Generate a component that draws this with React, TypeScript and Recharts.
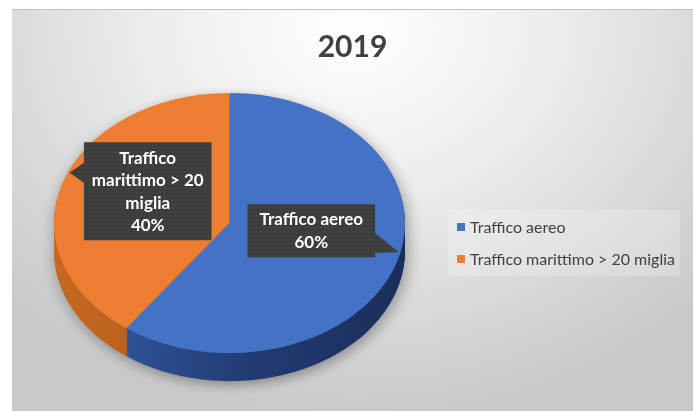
import React from "react";
import { Cell, Legend, Pie, PieChart } from "recharts";

const title = "2019";
const categories = ["Traffico aereo", "Traffico marittimo > 20 miglia"];
const shares = [60, 40];
const topColors = ["#4472c4", "#ed7d31"];
const sideFills = ["url(#sideBlue)", "url(#sideOrange)"];

const data = categories.map((name, i) => ({ name, value: shares[i] }));

const W = 693;
const H = 411;
const FONT = "Lato, 'Open Sans', sans-serif";

// the pie is drawn round and squashed with CSS to fake the 3D tilt
const TILT = 0.741;
const CX = 229.5;
const CY = 223 / TILT;
const R = 175.5;
const DEPTH = 38;
const layers = Array.from({ length: 19 }, (_, i) => DEPTH - i * 2);
const LIFT = 12;

function wrap(text: string, max = 14) {
  const out: string[] = [];
  let line = "";
  text.split(" ").forEach((word) => {
    const next = line ? line + " " + word : word;
    if (next.length > max && line) {
      out.push(line);
      line = word;
    } else {
      line = next;
    }
  });
  if (line) out.push(line);
  return out;
}

function Callout(props: any) {
  const { cx, cy, midAngle, outerRadius, percent } = props;
  const name = props.payload?.name ?? props.name;
  const rad = (midAngle * Math.PI) / 180;
  const ax = cx + outerRadius * 0.49 * Math.cos(rad);
  const ay = cy - outerRadius * 0.49 * Math.sin(rad);
  // pointer tip sits on the rim, nudged a little toward the top
  const tipRad = rad + ((5 * Math.PI) / 180) * Math.sign(Math.cos(rad));
  const tx = cx + outerRadius * 0.99 * Math.cos(tipRad) - ax;
  const ty = (cy - outerRadius * 0.99 * Math.sin(tipRad) - ay) * TILT;

  const lines = [...wrap(name), `${Math.round(percent * 100)}%`];
  const lh = 22.5;
  const w = Math.max(...lines.map((l) => l.length)) * 8.4 + 10;
  const h = lines.length * lh + 8;
  const l = -w / 2;
  const r = w / 2;
  const t = -LIFT - h / 2;
  const b = t + h;
  const by = Math.min(Math.max(ty, t + 14), b - 14);
  const b1 = by - 10;
  const b2 = by + 10;

  const d =
    tx > r
      ? `M${l},${t} H${r} V${b1} L${tx},${ty} L${r},${b2} V${b} H${l} Z`
      : `M${l},${t} H${r} V${b} H${l} V${b2} L${tx},${ty} L${l},${b1} Z`;

  return (
    <g transform={`translate(${ax},${ay}) scale(1,${1 / TILT})`}>
      <path d={d} fill="#3c3c3c" />
      <path d={d} fill="url(#dots)" />
      {lines.map((line, i) => (
        <text
          key={i}
          x={0}
          y={t + 4 + lh * i + lh / 2 + 6}
          textAnchor="middle"
          fill="#ffffff"
          fontFamily={FONT}
          fontWeight={700}
          fontSize={17}
        >
          {line}
        </text>
      ))}
    </g>
  );
}

function LegendBox(props: any) {
  const { payload = [] } = props;
  return (
    <div
      style={{
        fontFamily: FONT,
        fontSize: 16,
        color: "#404040",
        background: "rgba(255,255,255,0.22)",
        paddingTop: 1,
        paddingLeft: 9,
        boxSizing: "border-box",
        width: 232,
        height: 66,
      }}
    >
      {payload.map((entry: any, i: number) => (
        <div
          key={i}
          style={{ height: 32, lineHeight: "32px", display: "flex", alignItems: "center", whiteSpace: "nowrap" }}
        >
          <span
            style={{
              display: "inline-block",
              width: 8,
              height: 8,
              background: topColors[i] ?? entry.color,
              marginRight: 5,
            }}
          />
          {entry.value}
        </div>
      ))}
    </div>
  );
}

export default function App() {
  return (
    <div style={{ position: "fixed", left: 0, top: 0, width: W, height: H, background: "#ffffff" }}>
      <div
        style={{
          position: "absolute",
          left: 12,
          top: 9,
          right: 0,
          bottom: 0,
          borderTop: "1px solid #c4c4c4",
          background:
            "radial-gradient(ellipse 72% 100% at 50% 4%, #ffffff 0%, #ececec 42%, #c8c8c8 100%)",
        }}
      />
      <div
        style={{
          position: "absolute",
          left: 0,
          top: 0,
          width: W,
          height: Math.round(H / TILT),
          transform: `scaleY(${TILT})`,
          transformOrigin: "0 0",
          filter: "drop-shadow(2px 5px 8px rgba(0,0,0,0.35))",
        }}
      >
        <PieChart width={W} height={Math.round(H / TILT)} margin={{ top: 0, right: 0, bottom: 0, left: 0 }}>
          <defs>
            <linearGradient id="sideBlue" x1="0" y1="0" x2="1" y2="0">
              <stop offset="0%" stopColor="#2f5196" />
              <stop offset="45%" stopColor="#213b72" />
              <stop offset="100%" stopColor="#1a2e5a" />
            </linearGradient>
            <linearGradient id="sideOrange" x1="0" y1="0" x2="1" y2="0">
              <stop offset="0%" stopColor="#c66822" />
              <stop offset="100%" stopColor="#ab5719" />
            </linearGradient>
            <pattern id="dots" width="4" height="4" patternUnits="userSpaceOnUse">
              <circle cx="1" cy="1" r="0.7" fill="rgba(255,255,255,0.10)" />
            </pattern>
          </defs>
          {layers.map((d) => (
            <Pie
              key={d}
              data={data}
              dataKey="value"
              nameKey="name"
              cx={CX}
              cy={CY + d}
              outerRadius={R}
              startAngle={90}
              endAngle={-270}
              stroke="none"
              isAnimationActive={false}
            >
              {data.map((_, i) => (
                <Cell key={i} fill={sideFills[i]} />
              ))}
            </Pie>
          ))}
          <Pie
            data={data}
            dataKey="value"
            nameKey="name"
            cx={CX}
            cy={CY}
            outerRadius={R}
            startAngle={90}
            endAngle={-270}
            stroke="none"
            label={Callout}
            labelLine={false}
            isAnimationActive={false}
          >
            {data.map((_, i) => (
              <Cell key={i} fill={topColors[i]} />
            ))}
          </Pie>
        </PieChart>
      </div>
      <div
        style={{
          position: "absolute",
          left: 12,
          right: 0,
          top: 27,
          height: 36,
          lineHeight: "36px",
          textAlign: "center",
          fontFamily: FONT,
          fontWeight: 700,
          fontSize: 30,
          color: "#404040",
        }}
      >
        {title}
      </div>
      <div style={{ position: "absolute", left: 0, top: 0 }}>
        <PieChart width={W} height={H} margin={{ top: 0, right: 0, bottom: 0, left: 0 }}>
          <Pie
            data={data}
            dataKey="value"
            nameKey="name"
            outerRadius={0}
            stroke="none"
            isAnimationActive={false}
          >
            {data.map((_, i) => (
              <Cell key={i} fill={topColors[i]} />
            ))}
          </Pie>
          <Legend
            align="left"
            verticalAlign="top"
            layout="vertical"
            content={LegendBox}
            wrapperStyle={{ left: 448, top: 210, width: 232 }}
          />
        </PieChart>
      </div>
    </div>
  );
}
